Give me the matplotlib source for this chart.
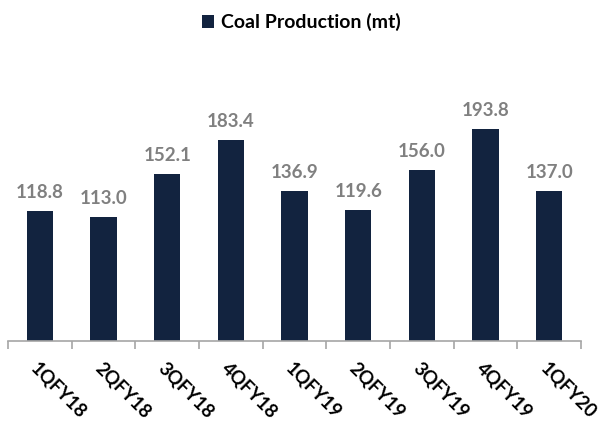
import numpy as np
import matplotlib.pyplot as plt

plt.rcParams['font.family'] = ['Lato', 'DejaVu Sans']

# Data
quarters = ['1QFY18', '2QFY18', '3QFY18', '4QFY18', '1QFY19',
            '2QFY19', '3QFY19', '4QFY19', '1QFY20']
production = [118.8, 113.0, 152.1, 183.4, 136.9, 119.6, 156.0, 193.8, 137.0]

bar_color = '#12233F'

fig = plt.figure(figsize=(6.03, 4.22), dpi=100)
ax = fig.add_axes([0.0133, 0.192, 0.9502, 0.727])

x = np.arange(len(quarters))
bars = ax.bar(x, production, width=0.41, color=bar_color, label='Coal Production (mt)')

# value labels
for xi, v in zip(x, production):
    ax.text(xi, v + 9, f'{v:.1f}', ha='center', va='bottom',
            fontsize=13.5, fontweight='bold', color='#808080')

ax.set_xlim(-0.5, len(quarters) - 0.5)
ax.set_ylim(0, 280)
ax.set_yticks([])

for s in ['top', 'right', 'left']:
    ax.spines[s].set_visible(False)
ax.spines['bottom'].set_color('#A6A6A6')
ax.spines['bottom'].set_linewidth(1.2)

# category boundary ticks
ax.set_xticks(np.arange(-0.5, len(quarters)), minor=False)
ax.set_xticklabels([])
ax.tick_params(axis='x', which='major', length=6, color='#A6A6A6', width=1.2)
ax.set_xticks(x, minor=True)
ax.set_xticklabels(quarters, minor=True, rotation=-45, ha='left',
                   rotation_mode='anchor', fontsize=13.5, fontweight='bold')
ax.tick_params(axis='x', which='minor', length=0, pad=13)

fig.legend(handles=[bars], labels=['Coal Production (mt)'], loc='upper center',
           bbox_to_anchor=(0.5, 1.01), frameon=False, handlelength=0.6,
           handleheight=0.6, handletextpad=0.4,
           prop={'size': 14, 'weight': 'bold'})

fig.savefig('out.png', dpi=100)
